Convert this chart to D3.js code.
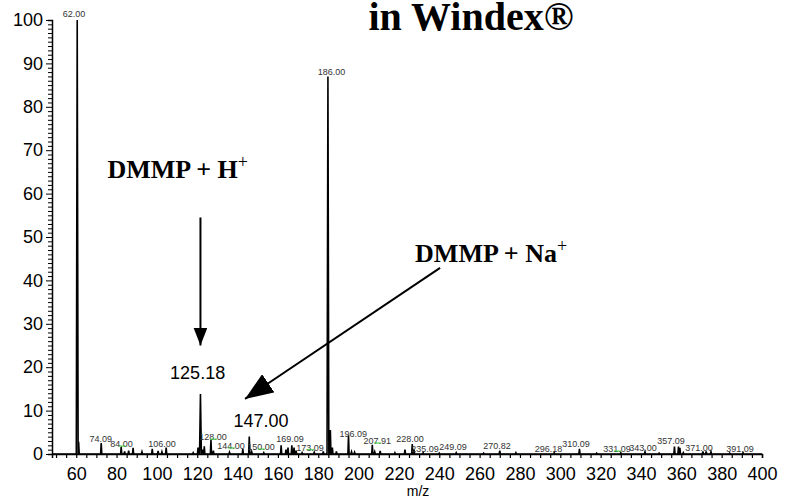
<!DOCTYPE html>
<html>
<head>
<meta charset="utf-8">
<script src="https://cdn.jsdelivr.net/npm/d3@7"></script>
<style>
  body { margin: 0; background: #fff; }
</style>
</head>
<body>
<script>
// spectrum peaks: position on the plotted m/z axis and relative intensity
var peakMz = [60.5, 61.2, 72.4, 82.3, 84, 86, 88.2, 92.6, 97.7, 100.6, 102.5, 104.6, 118, 120.4, 121.6, 122.8, 123.5,
  126.8, 128, 136, 142.6, 145.8, 147, 153, 161.6, 164, 165, 166.9, 168, 169, 172, 178, 182.5, 184.8, 186, 187, 189,
  195, 196.5, 198, 206.8, 208, 210.7, 218, 223, 226.6, 227.5, 232, 240, 248.4, 262, 270, 278, 297, 309.5, 318, 330,
  342, 349, 356.6, 358.6, 359.3, 361, 370.7, 372.3, 374.7, 384, 390.6];
var peakInt = [100, 2.8, 2.5, 1.6, 0.6, 0.8, 1.4, 0.5, 1.2, 0.7, 0.5, 1.5, 0.3, 1.5, 13.8, 1.0, 1.8,
  3.2, 0.8, 0.4, 1.2, 4.0, 0.5, 0.3, 2.0, 1.0, 1.5, 2.0, 1.5, 0.8, 0.3, 0.4, 0.6, 87, 5.5, 1.5, 0.6,
  4.3, 0.5, 0.4, 2.1, 0.5, 0.7, 0.3, 1.0, 2.3, 1.0, 0.3, 0.2, 0.3, 0.2, 0.8, 0.3, 0.3, 1.2, 0.2, 0.3,
  0.5, 0.2, 1.7, 1.7, 1.4, 0.3, 0.6, 0.6, 0.5, 0.2, 0.3];

// small peak annotations from the instrument software
var labelText = ['62.00', '74.09', '84.00', '106.00', '128.00', '144.00', '150.00', '169.09', '173.09', '186.00',
  '196.09', '207.91', '228.00', '235.09', '249.09', '270.82', '296.18', '310.09', '331.09', '343.00', '357.09',
  '371.00', '391.09'];
var labelMz = [58.9, 72.2, 82.5, 102.5, 127.8, 136.7, 151.6, 166.0, 175.9, 186.6, 197.3, 209.2, 225.5, 232.9,
  246.8, 268.6, 294.2, 307.8, 328.1, 341.0, 354.9, 368.8, 389.1];
var labelInt = [100.7, 2.8, 1.6, 1.6, 3.2, 1.15, 0.9, 2.8, 0.75, 87.3, 3.9, 2.3, 2.8, 0.5, 0.9, 1.15, 0.55, 1.6,
  0.45, 0.75, 2.3, 0.75, 0.55];
var labelGreen = [false, false, true, false, true, true, true, false, true, false, false, true, false, false, false,
  false, false, false, true, false, false, false, false];

var xTicks = [60, 80, 100, 120, 140, 160, 180, 200, 220, 240, 260, 280, 300, 320, 340, 360, 380, 400];
var yTicks = [0, 10, 20, 30, 40, 50, 60, 70, 80, 90, 100];

var width = 787;
var height = 500;

var svg = d3.select('body').append('svg')
  .attr('width', width)
  .attr('height', height)

var x = d3.scaleLinear().domain([48, 400]).range([52, 762]);
var y = d3.scaleLinear().domain([0, 100]).range([454, 20]);

// title (top line is cut off in the original)
svg.append('text')
  .attr('x', 471)
  .attr('y', 30)
  .attr('text-anchor', 'middle')
  .attr('font-family', 'Liberation Serif, Times New Roman, serif')
  .attr('font-weight', 'bold')
  .attr('font-size', 40)
  .text('in Windex®')

// spectrum as a profile line
var pts = [[48, 0]];
for (var i = 0; i < peakMz.length; i++) {
  var w = peakInt[i] > 10 ? 0.45 : 0.3;
  pts.push([peakMz[i] - w, 0]);
  pts.push([peakMz[i], peakInt[i]]);
  pts.push([peakMz[i] + w, 0]);
}
pts.push([400, 0]);

svg.append('path')
  .attr('d', d3.line().x(function(d) { return x(d[0]) }).y(function(d) { return y(d[1]) })(pts))
  .attr('fill', 'none')
  .attr('stroke', '#000')
  .attr('stroke-width', 1.6)

// axes
var xAxis = d3.axisBottom(x).tickValues(d3.range(50, 401, 5)).tickSize(4).tickFormat(function(d) {
  return xTicks.indexOf(d) >= 0 ? d : '';
});
var gx = svg.append('g').attr('transform', 'translate(0,' + y(0) + ')').call(xAxis);
gx.select('.domain').attr('stroke-width', 1.5);
gx.selectAll('.tick line').attr('stroke-width', 1.2);
gx.selectAll('text')
  .attr('font-family', 'Arial, Liberation Sans, sans-serif')
  .attr('font-size', 18)
  .attr('fill', '#000')
  .attr('dy', '1.05em')

var yAxis = d3.axisLeft(y).tickValues(d3.range(0, 101, 1)).tickSize(4).tickFormat(function(d) {
  return yTicks.indexOf(d) >= 0 ? d : '';
});
var gy = svg.append('g').attr('transform', 'translate(' + x(48) + ',0)').call(yAxis);
gy.select('.domain').attr('stroke-width', 1.5);
gy.selectAll('.tick line').attr('stroke-width', 1)
  .attr('x2', function(d) { return d % 10 === 0 ? -6 : -4 });
gy.selectAll('text')
  .attr('font-family', 'Arial, Liberation Sans, sans-serif')
  .attr('font-size', 18)
  .attr('fill', '#000')
  .attr('x', -9)

svg.append('text')
  .attr('x', 418)
  .attr('y', 496)
  .attr('text-anchor', 'middle')
  .attr('font-family', 'Arial, Liberation Sans, sans-serif')
  .attr('font-size', 14)
  .text('m/z')

// peak labels
var labels = svg.selectAll('.plabel')
  .data(labelText)
  .enter().append('g')
  .attr('class', 'plabel')
  .attr('transform', function(d, i) { return 'translate(' + x(labelMz[i]) + ',' + y(labelInt[i]) + ')' })

labels.append('text')
  .attr('text-anchor', 'middle')
  .attr('font-family', 'Arial, Liberation Sans, sans-serif')
  .attr('font-size', 9)
  .attr('fill', '#333')
  .text(function(d) { return d })

labels.filter(function(d, i) { return labelGreen[i] })
  .append('line')
  .attr('x1', -3).attr('x2', 4)
  .attr('y1', -1).attr('y2', -1)
  .attr('stroke', '#3c3')
  .attr('stroke-width', 1)

// annotations
var ann = svg.append('g')
  .attr('font-family', 'Liberation Serif, Times New Roman, serif')
  .attr('font-weight', 'bold')
  .attr('font-size', 26)

var t1 = ann.append('text').attr('x', x(75.5)).attr('y', y(63.5));
t1.append('tspan').text('DMMP + H');
t1.append('tspan').attr('dy', -10).attr('font-size', 18).attr('font-weight', 'normal').text('+');

var t2 = ann.append('text').attr('x', x(228)).attr('y', y(44.3));
t2.append('tspan').text('DMMP + Na');
t2.append('tspan').attr('dy', -10).attr('font-size', 18).attr('font-weight', 'normal').text('+');

svg.append('text')
  .attr('x', x(120.2)).attr('y', y(17.2))
  .attr('text-anchor', 'middle')
  .attr('font-family', 'Arial, Liberation Sans, sans-serif')
  .attr('font-size', 18)
  .text('125.18')

svg.append('text')
  .attr('x', x(151.6)).attr('y', y(6.3))
  .attr('text-anchor', 'middle')
  .attr('font-family', 'Arial, Liberation Sans, sans-serif')
  .attr('font-size', 18)
  .text('147.00')

var defs = svg.append('defs');
var heads = [['head1', 18, 14], ['head2', 28, 22]];
heads.forEach(function(h) {
  defs.append('marker')
    .attr('id', h[0])
    .attr('viewBox', '0 0 10 10')
    .attr('refX', 10).attr('refY', 5)
    .attr('markerWidth', h[1]).attr('markerHeight', h[2])
    .attr('markerUnits', 'userSpaceOnUse')
    .attr('orient', 'auto')
    .attr('preserveAspectRatio', 'none')
    .append('path')
    .attr('d', 'M0,0L10,5L0,10Z')
    .attr('fill', '#000')
});

var arrows = [[121.6, 54.5, 121.6, 25], [240.4, 42.9, 143.7, 12.7]];
svg.selectAll('.arrow')
  .data(arrows)
  .enter().append('line')
  .attr('class', 'arrow')
  .attr('x1', function(d) { return x(d[0]) })
  .attr('y1', function(d) { return y(d[1]) })
  .attr('x2', function(d) { return x(d[2]) })
  .attr('y2', function(d) { return y(d[3]) })
  .attr('stroke', '#000')
  .attr('stroke-width', 2)
  .attr('marker-end', function(d, i) { return 'url(#head' + (i + 1) + ')' })
</script>
</body>
</html>
